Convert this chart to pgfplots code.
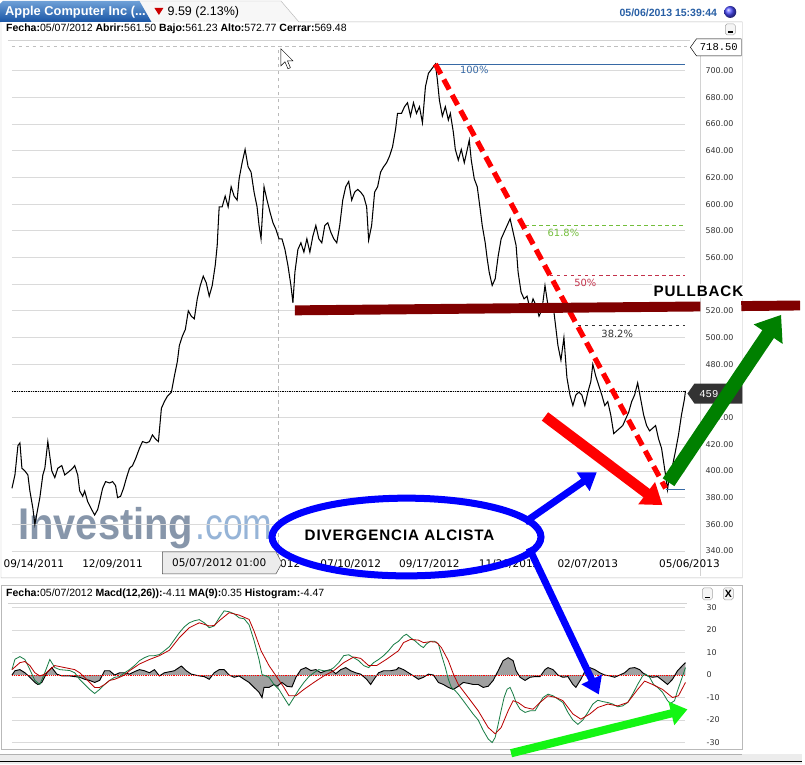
\documentclass[border=0pt]{standalone}
\usepackage{pgfplots}
\pgfplotsset{compat=1.18}
\usepackage{fontspec}
\setmainfont{DejaVu Sans}
\newfontfamily\arial{Liberation Sans}
\newfontfamily\mono{Liberation Mono}
\newfontfamily\spaced[LetterSpace=6]{Liberation Sans}
\usetikzlibrary{arrows.meta}

\definecolor{gridc}{RGB}{218,218,218}
\definecolor{macdg}{RGB}{25,125,70}
\definecolor{sigr}{RGB}{185,0,0}
\definecolor{histg}{RGB}{160,160,160}
\definecolor{maroon}{RGB}{128,0,0}
\definecolor{darkgr}{RGB}{0,128,0}
\definecolor{brightgr}{RGB}{20,245,20}
\definecolor{tabtop}{RGB}{110,160,215}
\definecolor{tabbot}{RGB}{25,85,165}
\definecolor{datec}{RGB}{40,95,165}
\definecolor{fibblue}{RGB}{55,105,165}
\definecolor{fibgreen}{RGB}{115,190,60}
\definecolor{fibred}{RGB}{195,50,75}
\definecolor{wmgray}{RGB}{135,150,170}
\definecolor{wmblue}{RGB}{150,180,215}
\definecolor{framec}{RGB}{185,185,185}

\begin{document}
\begin{tikzpicture}
% ---------- panels and header (pixel units) ----------
\begin{scope}[x=0.3mm,y=-0.3mm]
  \useasboundingbox (0,0) rectangle (805,767);
  \fill[white] (0,0) rectangle (805,767);
  \fill[gray!6] (138,1) -- (282,1) -- (300,22) -- (148,22) -- cycle;
  \draw[framec] (138,1) -- (282,1) -- (300,22) -- (745,22) -- (745,580) -- (1,580) -- (1,22) -- (0,22);
  \shade[top color=tabtop,bottom color=tabbot] (0,22) -- (0,4) -- (3,1) -- (140,1) -- (152,22) -- cycle;
  \node[anchor=west,inner sep=0,text=white,font=\arial\bfseries\fontsize{11}{12}\selectfont] at (5,12) {Apple Computer Inc (...};
  \fill[red!80!black] (155,8) -- (164,8) -- (159.5,15) -- cycle;
  \node[anchor=west,inner sep=0,font=\arial\fontsize{10.7}{12}\selectfont] at (168,12.5) {9.59 (2.13\%)};
  \node[anchor=east,inner sep=0,text=datec,font=\arial\bfseries\fontsize{9}{10}\selectfont] at (720,13) {05/06/2013 15:39:44};
  \shade[ball color=blue!70] (733,12) circle (6);
  \node[anchor=west,inner sep=0,font=\arial\fontsize{9}{10}\selectfont] at (6,29)
    {\textbf{Fecha:}05/07/2012 \textbf{Abrir:}561.50 \textbf{Bajo:}561.23 \textbf{Alto:}572.77 \textbf{Cerrar:}569.48};
  \draw[gray!70,rounded corners=1.5,fill=gray!8] (728,24) rectangle (738,35);
  \draw[black,line width=1.2pt] (730.5,32) -- (735.5,32);
  \draw[gray!35] (8,40) -- (693,40);
  \draw[gray!35] (703,40) -- (703,578);
  % MACD panel
  \draw[framec] (1,587) rectangle (745,752);
  \node[anchor=west,inner sep=0,font=\arial\fontsize{9}{10}\selectfont] at (6,596)
    {\textbf{Fecha:}05/07/2012 \textbf{Macd(12,26)):}-4.11 \textbf{MA(9):}0.35 \textbf{Histogram:}-4.47};
  \draw[gray!70,rounded corners=1.5,fill=gray!8] (705,590) rectangle (715,602);
  \draw[black,line width=1.2pt] (707.5,599.5) -- (712.5,599.5);
  \draw[gray!70,rounded corners=1.5,fill=gray!8] (726,590) rectangle (736,602);
  \node[inner sep=0,font=\arial\bfseries\fontsize{9}{10}\selectfont] at (731,596.5) {X};
  \draw[gray!35] (8,605) -- (690,605);
  % navigator strip
  \fill[gray!15] (0,757) rectangle (805,767);
  \draw[gray!60] (0,757) -- (745,757);
  \draw[black,line width=1pt] (0,764) -- (805,764);
  % watermark
  \node[anchor=base west,inner sep=0,text=wmgray,font=\arial\bfseries\fontsize{38}{38}\selectfont,xscale=0.9] at (18,541) {Investing};
  \node[anchor=base west,inner sep=0,text=wmblue,font=\arial\fontsize{38}{38}\selectfont,xscale=0.8] at (196,541) {.com};
\end{scope}

% ---------- price panel ----------
\begin{axis}[
  at={(3.6mm,-167.91mm)}, anchor=south west,
  scale only axis, width=202.8mm, height=154.05mm,
  xmin=12, xmax=688, ymin=335, ymax=718.5,
  axis line style={draw=none},
  major tick length=0pt,
  ymajorgrids, grid style={gridc,line width=0.6pt},
  ytick={340,360,380,400,420,440,480,500,520,560,580,600,620,640,660,680,700},
  yticklabel pos=right,
  y tick label style={anchor=west,xshift=6mm,inner sep=0pt,text=black!80,
    font=\fontsize{6.8}{8}\selectfont,
    /pgf/number format/.cd,fixed,fixed zerofill,precision=2,assume math mode=true},
  xtick={34,113,271,352,431,511,590},
  xticklabels={09/14/2011,12/09/2011,05/01/2012,07/10/2012,09/17/2012,11/26/2012,02/07/2013},
  x tick label style={anchor=north,inner sep=0pt,yshift=-0.6mm,font=\fontsize{9}{10}\selectfont},
  clip=false,
]
\addplot[gridc,line width=0.6pt] coordinates {(12,540) (688,540)};
\addplot[gridc,line width=0.6pt] coordinates {(12,460) (688,460)};
\addplot[gray!50,dashed,line width=0.5pt] coordinates {(12,718.5) (690,718.5)};
\addplot[gray!55,dashed,line width=0.5pt] coordinates {(279,335) (279,718.5)};
\addplot[black,densely dotted,line width=0.5pt] coordinates {(12,459.77) (688,459.77)};
\addplot[black,line width=0.9pt] coordinates {
(12,387)(15,397)(18,419)(20,421)(22,402)(25,400)(28,397)(30,385)(33,372)(35,360)
(38,372)(40,380)(43,397)(45,402)(48,422)(52,400)(55,395)(58,402)(62,404)(65,397)
(70,400)(73,402)(75,404)(78,397)(80,385)(83,381)(85,385)(88,377)(92,371)(95,367)
(98,371)(100,377)(103,387)(106,392)(110,391)(113,392)(116,389)(118,380)(121,381)(124,387)
(127,395)(130,402)(133,404)(136,409)(140,417)(143,422)(147,421)(150,422)(153,427)(156,424)
(159,422)(162,447)(165,452)(168,456)(172,459)(175,471)(178,482)(180,494)(183,501)(186,506)
(189,520)(192,516)(195,514)(198,529)(201,539)(204,546)(207,541)(210,531)(213,539)(216,554)
(218,569)(219,584)(220,598)(223,598)(226,606)(229,598)(232,613)(235,606)(238,603)(240,619)
(243,631)(246,641)(249,628)(252,624)(255,609)(258,598)(260,584)(262,574)(265,613)(268,603)
(271,594)(274,586)(277,581)(280,574)(283,574)(286,566)(289,554)(292,539)(294,526)(296,549)
(299,566)(302,571)(305,564)(308,574)(311,564)(314,576)(317,584)(320,574)(323,571)(326,584)
(329,586)(332,579)(335,574)(338,571)(341,584)(344,603)(347,613)(350,617)(353,603)(356,609)
(359,611)(362,609)(365,606)(368,598)(370,573)(373,584)(376,609)(379,613)(382,624)(385,628)
(388,631)(391,636)(394,643)(397,656)(399,668)(403,668)(406,673)(409,676)(412,666)(415,676)
(418,668)(421,673)(424,661)(427,688)(430,698)(433,701)(437,705)(439,693)(441,678)(444,666)
(447,673)(450,663)(452,668)(455,654)(457,641)(460,633)(463,641)(466,631)(469,641)(471,648)
(473,633)(476,619)(479,613)(482,596)(484,584)(487,571)(489,559)(491,549)(494,539)(497,544)
(500,561)(503,574)(506,579)(509,584)(512,589)(515,579)(518,569)(520,549)(523,534)(526,529)
(529,531)(532,521)(535,529)(538,524)(541,516)(544,521)(547,539)(550,524)(553,521)(556,519)
(560,494)(563,483)(566,500)(569,470)(572,457)(575,449)(578,457)(581,459)(584,457)(587,449)
(590,459)(593,467)(595,480)(598,471)(601,464)(604,457)(607,449)(610,452)(613,442)(616,428)
(619,430)(622,432)(625,434)(628,439)(631,444)(634,452)(637,457)(640,466)(643,454)(646,442)
(649,434)(652,430)(655,432)(658,434)(661,424)(664,417)(666,407)(668,397)(670,386)(672,397)
(675,404)(678,415)(681,427)(684,442)(687,454)(688,460)
};
% Fibonacci retracement
\addplot[fibblue,line width=0.6pt] coordinates {(437,705) (688,705)};
\addplot[fibgreen,dashed,line width=0.6pt] coordinates {(527,584) (688,584)};
\addplot[fibred,dashed,line width=0.6pt] coordinates {(552,546.5) (688,546.5)};
\addplot[black!80,dashed,line width=0.6pt] coordinates {(580,509) (688,509)};
\addplot[fibblue,line width=0.6pt] coordinates {(668,386.5) (688,386.5)};
\node[text=fibblue,font=\fontsize{8.5}{9}\selectfont] at (axis cs:476,700.3) {100\%};
\node[text=fibgreen,font=\fontsize{8.5}{9}\selectfont] at (axis cs:565.5,578.3) {61.8\%};
\node[text=fibred,font=\fontsize{8.5}{9}\selectfont] at (axis cs:587.5,541) {50\%};
\node[text=black!80,font=\fontsize{8.5}{9}\selectfont] at (axis cs:619.5,502.8) {38.2\%};
% trend line
\addplot[red,line width=4.5pt,dash pattern=on 3.4mm off 1.9mm] coordinates {(437,705) (668,387)};
\node[anchor=north,inner sep=0pt,yshift=-0.6mm,font=\fontsize{9}{10}\selectfont] at (axis cs:692,335) {05/06/2013};
\end{axis}

% ---------- MACD panel ----------
\begin{axis}[
  at={(3.6mm,-224.61mm)}, anchor=south west,
  scale only axis, width=202.8mm, height=43.05mm,
  xmin=12, xmax=688, ymin=-31.5, ymax=32,
  axis line style={draw=none},
  major tick length=0pt,
  ymajorgrids, grid style={gridc,line width=0.6pt},
  ytick={-30,-20,...,30},
  yticklabel pos=right,
  y tick label style={anchor=west,xshift=6.3mm,inner sep=0pt,text=black!80,
    font=\fontsize{6.8}{8}\selectfont,/pgf/number format/assume math mode=true},
  xtick=\empty,
  clip=false,
]
\addplot[white,line width=0.8pt] coordinates {(12,0) (688,0)};
\addplot[gray!55,dashed,line width=0.5pt] coordinates {(279,-31.5) (279,32)};
\addplot[fill=histg,draw=none] coordinates {
(12,0)(15,1.9)(20,2.4)(25,1)(30,-1)(35,-3.3)(38,-4.2)(42,-3.3)(47,1)(52,3.3)(57,0.4)(62,-0.4)
(70,-0.4)(80,-1)(85,-1.9)(90,-2.4)(95,-3.3)(100,-2.4)(105,1.9)(110,1.9)(115,0)(120,1)(125,1)
(130,0.4)(135,1.5)(140,2.4)(145,1.9)(150,1)(155,2.4)(160,-0.4)(165,1)(175,1.9)(182,4)(187,1.9)
(192,0.4)(200,-0.4)(205,-0.7)(210,-1.9)(215,1)(220,2.4)(225,2.4)(230,0)(235,-1)(240,-0.4)
(245,-1.9)(250,-3.3)(255,-5.5)(260,-7.7)(263,-10)(265,-5.5)(270,-5.5)(275,-4.2)(278,-5)
(283,-3.3)(288,-5)(293,-5.3)(297,-1)(302,2.4)(307,3.3)(312,2)(317,2.4)(322,1)(327,1.9)
(332,2.4)(337,0.6)(342,2.4)(347,3.3)(352,1.9)(357,1)(362,0.4)(368,-1.9)(372,-4.2)(376,-1.5)
(380,1)(385,1.9)(392,1.9)(398,2.4)(400,3.3)(405,2.4)(410,1)(415,-0.4)(420,-1.9)(425,-1)
(430,0.4)(435,0)(440,-3.3)(445,-4.2)(450,-5.5)(455,-6.4)(460,-5)(465,-3.3)(470,-3.7)
(475,-4.2)(480,-4.2)(485,-5.5)(490,-5)(495,-2.4)(500,1.9)(505,6.4)(510,7.7)(515,6.4)
(518,1.9)(522,-1)(527,-2.4)(532,-1)(537,-0.7)(542,-0.7)(547,2.4)(550,3.3)(555,2.4)(560,0)
(565,-1)(570,-0.7)(575,-4.2)(578,-5.5)(583,-1.9)(588,2.4)(592,3.3)(597,2.4)(602,1)(607,0)
(612,-0.4)(617,-1)(622,0)(627,1)(632,3)(637,3.3)(642,2.4)(645,1)(650,-0.4)(655,-1)
(660,-0.7)(665,-2.4)(670,-4.2)(675,-1.9)(680,1.9)(685,4.2)(688,5.5)(688,0)
} -- cycle;
\addplot[black,line width=0.8pt] coordinates {
(12,0)(15,1.9)(20,2.4)(25,1)(30,-1)(35,-3.3)(38,-4.2)(42,-3.3)(47,1)(52,3.3)(57,0.4)(62,-0.4)
(70,-0.4)(80,-1)(85,-1.9)(90,-2.4)(95,-3.3)(100,-2.4)(105,1.9)(110,1.9)(115,0)(120,1)(125,1)
(130,0.4)(135,1.5)(140,2.4)(145,1.9)(150,1)(155,2.4)(160,-0.4)(165,1)(175,1.9)(182,4)(187,1.9)
(192,0.4)(200,-0.4)(205,-0.7)(210,-1.9)(215,1)(220,2.4)(225,2.4)(230,0)(235,-1)(240,-0.4)
(245,-1.9)(250,-3.3)(255,-5.5)(260,-7.7)(263,-10)(265,-5.5)(270,-5.5)(275,-4.2)(278,-5)
(283,-3.3)(288,-5)(293,-5.3)(297,-1)(302,2.4)(307,3.3)(312,2)(317,2.4)(322,1)(327,1.9)
(332,2.4)(337,0.6)(342,2.4)(347,3.3)(352,1.9)(357,1)(362,0.4)(368,-1.9)(372,-4.2)(376,-1.5)
(380,1)(385,1.9)(392,1.9)(398,2.4)(400,3.3)(405,2.4)(410,1)(415,-0.4)(420,-1.9)(425,-1)
(430,0.4)(435,0)(440,-3.3)(445,-4.2)(450,-5.5)(455,-6.4)(460,-5)(465,-3.3)(470,-3.7)
(475,-4.2)(480,-4.2)(485,-5.5)(490,-5)(495,-2.4)(500,1.9)(505,6.4)(510,7.7)(515,6.4)
(518,1.9)(522,-1)(527,-2.4)(532,-1)(537,-0.7)(542,-0.7)(547,2.4)(550,3.3)(555,2.4)(560,0)
(565,-1)(570,-0.7)(575,-4.2)(578,-5.5)(583,-1.9)(588,2.4)(592,3.3)(597,2.4)(602,1)(607,0)
(612,-0.4)(617,-1)(622,0)(627,1)(632,3)(637,3.3)(642,2.4)(645,1)(650,-0.4)(655,-1)
(660,-0.7)(665,-2.4)(670,-4.2)(675,-1.9)(680,1.9)(685,4.2)(688,5.5)
};
\addplot[red,densely dotted,line width=0.6pt] coordinates {(12,0) (688,0)};
% MACD line
\addplot[macdg,line width=0.7pt] coordinates {
(12,2.4)(15,7)(20,8.2)(25,6.9)(30,2.4)(35,-2.4)(40,-4.2)(45,1.1)(50,6.9)(55,3.3)(60,2.4)
(70,2)(75,1)(80,-2)(85,-4.2)(90,-6.4)(95,-8.2)(100,-6.4)(105,-4.2)(110,-2.4)(115,-1)
(120,-0.7)(125,1)(130,2.4)(135,4.2)(140,6.4)(145,7.7)(150,8.6)(155,8.6)(160,9.1)(165,10.8)
(170,12.6)(175,15.7)(180,18.8)(185,21.4)(190,23.2)(195,24.1)(200,24.6)(205,23.2)(210,21)
(215,21.8)(220,25.4)(225,28.5)(230,28.1)(235,27.2)(240,25.4)(245,25)(250,22.3)(255,15.3)
(260,6.9)(263,0.2)(267,-0.4)(270,-1)(275,-4.2)(280,-6.4)(285,-10)(290,-13.5)(295,-10)
(300,-6.4)(305,-3.3)(310,-0.7)(315,1)(320,2.4)(325,1.9)(330,1.9)(335,3.3)(340,5.5)(345,8.6)
(350,9)(355,7.7)(360,6.4)(365,4.2)(370,3.3)(375,5.5)(380,6.9)(385,8.6)(390,10.8)(395,13.5)
(400,15)(405,17.4)(408,18.1)(412,16.6)(417,15)(422,13)(425,12.2)(428,13.8)(432,15)(436,15)
(440,13.8)(443,9.1)(447,3.3)(450,-1.9)(453,-5.5)(457,-7)(460,-8.5)(465,-11.4)(470,-14.4)
(475,-17.4)(480,-20)(485,-24.6)(490,-28.4)(494,-30)(497,-27.7)(500,-21.9)(503,-15.7)
(506,-9.9)(509,-6.3)(512,-5.5)(515,-8.5)(518,-12.2)(522,-15.2)(527,-16.6)(532,-15.9)
(537,-15.9)(540,-13.7)(545,-10)(550,-8.5)(555,-9.2)(560,-10.7)(565,-12.2)(570,-16.6)
(575,-20)(580,-21.9)(585,-20)(590,-16.6)(595,-12.9)(600,-11.2)(605,-11.8)(610,-12.2)
(615,-12.9)(620,-14.1)(625,-13.7)(630,-12.2)(635,-8.5)(640,-4.2)(645,-0.4)(648,0.4)
(652,-1)(656,-4.2)(660,-5.5)(665,-7.7)(670,-11.4)(673,-12.6)(677,-11.4)(680,-7)(684,-1.9)(688,3.3)
};
% signal line
\addplot[sigr,line width=0.7pt] coordinates {
(12,2.4)(20,5.5)(25,6)(30,4.2)(35,1)(40,-0.4)(45,0.4)(50,2.4)(55,4.2)(65,3.3)(75,2.4)(80,1)
(85,-1)(90,-3.3)(95,-5.5)(100,-5.5)(105,-4.2)(110,-2.4)(115,-1.9)(120,-1)(125,0)(130,1.9)
(140,4.9)(150,6.9)(160,8.6)(170,11)(180,16.6)(190,21)(200,23.2)(210,21.8)(215,22)(220,24.1)
(230,27.7)(240,26.6)(250,24.7)(255,19.5)(262,10.8)(270,4.2)(278,-1)(285,-5.5)(290,-9.2)
(297,-9.2)(305,-6.4)(315,-3.3)(325,-0.4)(335,1.9)(345,5.5)(355,8)(362,7.4)(370,4.2)(378,4.2)
(388,7)(400,10.8)(405,14.4)(412,15.8)(420,15.5)(425,14.4)(432,14.8)(438,14.6)(443,12.2)
(450,6.4)(455,0.5)(460,-4.2)(470,-10)(480,-15.9)(490,-23.3)(497,-26.1)(503,-23.3)(510,-15.9)
(515,-11.4)(520,-12.2)(527,-14.4)(535,-15.2)(542,-12.2)(550,-9.2)(558,-10)(565,-11.4)
(575,-17.3)(583,-19.6)(592,-17.3)(600,-14.4)(610,-12.9)(620,-13.7)(630,-12.2)(640,-6.4)
(647,-2.7)(655,-4.2)(665,-6.4)(675,-10)(681,-9.2)(688,-3.3)
};
\end{axis}

% ---------- hand-drawn annotations (pixel units) ----------
\begin{scope}[x=0.3mm,y=-0.3mm]
  % price tags
  \draw[black,fill=white] (693,47.5) -- (699,39) -- (744,39) -- (744,56) -- (699,56) -- cycle;
  \node[inner sep=0,font=\mono\fontsize{9}{10}\selectfont] at (721.5,47.5) {718.50};
  \fill[black!80] (690,395) -- (697,385) -- (745,385) -- (745,405) -- (697,405) -- cycle;
  \node[inner sep=0,text=white,font=\mono\fontsize{9}{10}\selectfont] at (721,395) {459.77};
  % cursor date box
  \draw[black!70,fill=gray!15] (163,554) -- (277,554) -- (283,565) -- (277,576) -- (163,576) -- cycle;
  \node[inner sep=0,font=\fontsize{9}{10}\selectfont] at (220,565) {05/07/2012 01:00};
  % mouse pointer
  \draw[black,fill=white,line width=0.4pt] (282,49) -- (282,66) -- (286,62) -- (289,69) -- (291.5,68) -- (288.5,61) -- (294,61) -- cycle;
  % pullback level
  \draw[maroon,line width=8.5pt] (296,311.5) -- (703,307.6);
  \draw[maroon,line width=8.5pt] (744,307.2) -- (803,306.6);
  \node[fill=white,inner xsep=1pt,inner ysep=1.5pt,font=\spaced\bfseries\fontsize{13}{14}\selectfont] at (701,292) {PULLBACK};
  % arrows
  \draw[red,line width=9pt,-{Triangle[length=6mm,width=8mm]}] (547,418) -- (665,507);
  \draw[darkgr,line width=12pt,-{Triangle[length=7mm,width=10mm]}] (671,484) -- (784,316);
  \draw[blue,line width=6pt] (408,539) ellipse [x radius=135, y radius=39];
  \node[inner sep=0,font=\spaced\bfseries\fontsize{13}{14}\selectfont] at (401,537) {DIVERGENCIA ALCISTA};
  \draw[blue,line width=6pt,-{Triangle[length=5mm,width=6.5mm]}] (527,524) -- (599,474);
  \draw[blue,line width=6pt,-{Triangle[length=5mm,width=6.5mm]}] (531,550) -- (601,697);
  \draw[brightgr,line width=7pt,-{Triangle[length=5mm,width=7mm]}] (513,756) -- (690,712);
\end{scope}
\end{tikzpicture}
\end{document}
